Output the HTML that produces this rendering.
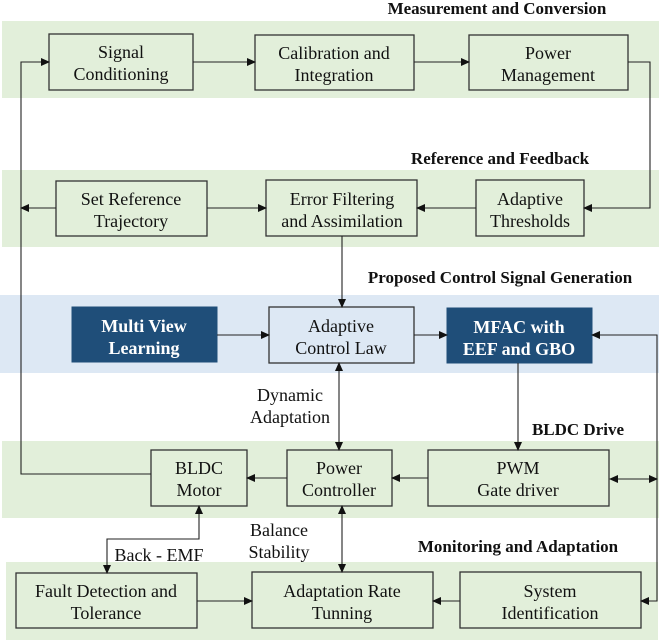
<!DOCTYPE html>
<html><head><meta charset="utf-8"><style>
body{margin:0;background:#fff}
svg{display:block}
text{font-family:"Liberation Serif","Times New Roman",serif;font-size:18px;fill:#111}
.t{font-weight:bold;font-size:17px}
.w{fill:#fff;font-weight:bold}
.b{fill:#e2efda;stroke:#333;stroke-width:1.3}
.bb{fill:#dde8f4;stroke:#333;stroke-width:1.3}
.d{fill:#1f4e79;stroke:#1f4e79}
.l{stroke:#222;stroke-width:1.1;fill:none}
</style></head><body>
<svg width="661" height="641" viewBox="0 0 661 641">
<defs><marker id="a" markerWidth="10" markerHeight="10" refX="8" refY="4" orient="auto-start-reverse" markerUnits="userSpaceOnUse"><path d="M0,0 L9,4 L0,8z" fill="#111"/></marker></defs>
<rect x="2" y="21" width="657" height="77" fill="#e2efda"/>
<rect x="2" y="170" width="657" height="77" fill="#e2efda"/>
<rect x="0" y="295" width="659" height="78" fill="#dde8f4"/>
<rect x="2" y="441" width="657" height="77" fill="#e2efda"/>
<rect x="6" y="562" width="652" height="78" fill="#e2efda"/>

<text class="t" x="497" y="14" text-anchor="middle">Measurement and Conversion</text>
<text class="t" x="500" y="164" text-anchor="middle">Reference and Feedback</text>
<text class="t" x="500" y="283" text-anchor="middle">Proposed Control Signal Generation</text>
<text class="t" x="578" y="435" text-anchor="middle">BLDC Drive</text>
<text class="t" x="518" y="552" text-anchor="middle">Monitoring and Adaptation</text>

<rect class="b" x="49" y="34" width="144" height="56"/>
<text x="121" y="58" text-anchor="middle">Signal</text><text x="121" y="80" text-anchor="middle">Conditioning</text>
<rect class="b" x="255" y="35" width="159" height="55"/>
<text x="334" y="59" text-anchor="middle">Calibration and</text><text x="334" y="81" text-anchor="middle">Integration</text>
<rect class="b" x="469" y="35" width="159" height="55"/>
<text x="548" y="59" text-anchor="middle">Power</text><text x="548" y="81" text-anchor="middle">Management</text>

<rect class="b" x="56" y="181" width="151" height="55"/>
<text x="131" y="205" text-anchor="middle">Set Reference</text><text x="131" y="227" text-anchor="middle">Trajectory</text>
<rect class="b" x="266" y="180" width="151" height="56"/>
<text x="342" y="205" text-anchor="middle">Error Filtering</text><text x="342" y="227" text-anchor="middle">and Assimilation</text>
<rect class="b" x="476" y="180" width="108" height="56"/>
<text x="530" y="205" text-anchor="middle">Adaptive</text><text x="530" y="227" text-anchor="middle">Thresholds</text>

<rect class="d" x="72" y="307" width="145" height="55"/>
<text class="w" x="144" y="332" text-anchor="middle">Multi View</text><text class="w" x="144" y="354" text-anchor="middle">Learning</text>
<rect class="bb" x="269" y="307" width="145" height="56"/>
<text x="341" y="332" text-anchor="middle">Adaptive</text><text x="341" y="354" text-anchor="middle">Control Law</text>
<rect class="d" x="447" y="308" width="145" height="55"/>
<text class="w" x="519" y="333" text-anchor="middle">MFAC with</text><text class="w" x="519" y="355" text-anchor="middle">EEF and GBO</text>

<rect class="b" x="151" y="450" width="96" height="56"/>
<text x="199" y="474" text-anchor="middle">BLDC</text><text x="199" y="496" text-anchor="middle">Motor</text>
<rect class="b" x="287" y="450" width="105" height="56"/>
<text x="339" y="474" text-anchor="middle">Power</text><text x="339" y="496" text-anchor="middle">Controller</text>
<rect class="b" x="428" y="450" width="181" height="56"/>
<text x="518" y="474" text-anchor="middle">PWM</text><text x="518" y="496" text-anchor="middle">Gate driver</text>

<rect class="b" x="16" y="573" width="181" height="55"/>
<text x="106" y="597" text-anchor="middle">Fault Detection and</text><text x="106" y="619" text-anchor="middle">Tolerance</text>
<rect class="b" x="252" y="572" width="181" height="56"/>
<text x="342" y="597" text-anchor="middle">Adaptation Rate</text><text x="342" y="619" text-anchor="middle">Tunning</text>
<rect class="b" x="460" y="572" width="181" height="56"/>
<text x="550" y="597" text-anchor="middle">System</text><text x="550" y="619" text-anchor="middle">Identification</text>

<text x="290" y="401" text-anchor="middle">Dynamic</text><text x="290" y="423" text-anchor="middle">Adaptation</text>
<text x="279" y="536" text-anchor="middle">Balance</text><text x="279" y="558" text-anchor="middle">Stability</text>
<text x="159" y="561" text-anchor="middle">Back - EMF</text>

<path class="l" d="M193,62 H255" marker-end="url(#a)"/>
<path class="l" d="M414,62 H469" marker-end="url(#a)"/>
<path class="l" d="M628,62 H650 V208 H584" marker-end="url(#a)"/>
<path class="l" d="M476,208 H417" marker-end="url(#a)"/>
<path class="l" d="M207,208 H266" marker-end="url(#a)"/>
<path class="l" d="M56,208 H21" marker-end="url(#a)"/>
<path class="l" d="M151,474 H21 V62 H49" marker-end="url(#a)"/>
<path class="l" d="M342,236 V307" marker-end="url(#a)"/>
<path class="l" d="M217,335 H269" marker-end="url(#a)"/>
<path class="l" d="M414,335 H447" marker-end="url(#a)"/>
<path class="l" d="M641,601 H657 V335 H592" marker-start="url(#a)" marker-end="url(#a)"/>
<path class="l" d="M518,363 V450" marker-end="url(#a)"/>
<path class="l" d="M610,479 H657" marker-start="url(#a)" marker-end="url(#a)"/>
<path class="l" d="M428,478 H392" marker-end="url(#a)"/>
<path class="l" d="M287,478 H247" marker-end="url(#a)"/>
<path class="l" d="M339,363 V450" marker-start="url(#a)" marker-end="url(#a)"/>
<path class="l" d="M342,506 V572" marker-start="url(#a)" marker-end="url(#a)"/>
<path class="l" d="M199,506 V539 H107 V573" marker-start="url(#a)" marker-end="url(#a)"/>
<path class="l" d="M197,601 H252" marker-end="url(#a)"/>
<path class="l" d="M460,601 H433" marker-end="url(#a)"/>
</svg>
</body></html>
